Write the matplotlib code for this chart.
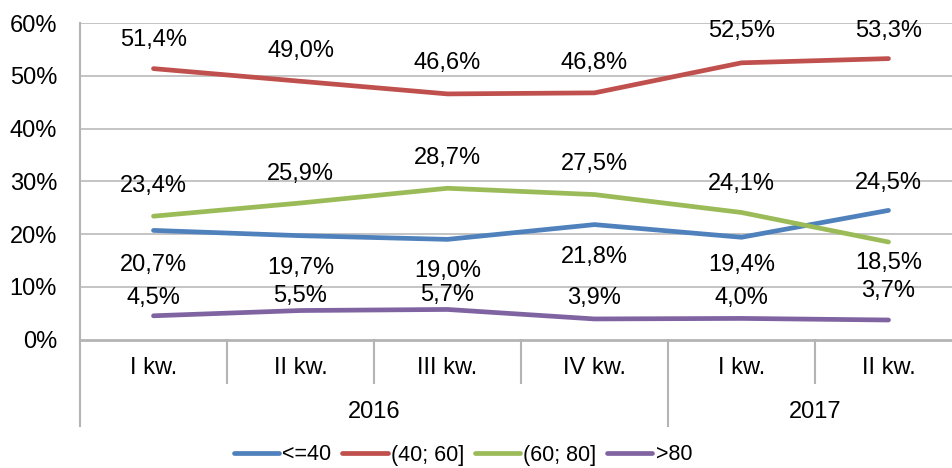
import matplotlib
matplotlib.use("Agg")
import matplotlib.pyplot as plt
from matplotlib.lines import Line2D
from matplotlib.transforms import blended_transform_factory

plt.rcParams["font.family"] = ["Liberation Sans", "DejaVu Sans"]

# Quarterly shares per group
quarters = ["I kw.", "II kw.", "III kw.", "IV kw.", "I kw.", "II kw."]
years = ["2016", "2017"]
year_span = [4, 2]  # number of quarters in each year

series_names = ["<=40", "(40; 60]", "(60; 80]", ">80"]
le_40 = [20.7, 19.7, 19.0, 21.8, 19.4, 24.5]
from_40_to_60 = [51.4, 49.0, 46.6, 46.8, 52.5, 53.3]
from_60_to_80 = [23.4, 25.9, 28.7, 27.5, 24.1, 18.5]
above_80 = [4.5, 5.5, 5.7, 3.9, 4.0, 3.7]

colors = ["#4F81BD", "#C0504D", "#9BBB59", "#8064A2"]

# vertical label offsets in pixels (negative = above the point)
label_offsets = [
    [35, 32, 32, 32, 28, -27],
    [-29, -30, -31, -30, -32, -28],
    [-30, -29, -30, -31, -28, 21],
    [-18, -15, -14, -21, -20, -29],
]

FS = 17
LW = 3.4
W, H = 952, 468
fig = plt.figure(figsize=(W / 100, H / 100), dpi=100)
left, right, top, bottom = 80, 962, 23.3, 339.5
ax = fig.add_axes([left / W, 1 - bottom / H, (right - left) / W, (bottom - top) / H])

grid_color = "#B4B4B4"
x = list(range(len(quarters)))
all_series = [le_40, from_40_to_60, from_60_to_80, above_80]

for vals, col, name, offs in zip(all_series, colors, series_names, label_offsets):
    ax.plot(x, vals, color=col, lw=LW, solid_capstyle="round",
            solid_joinstyle="round", label=name, zorder=3)
    for xi, v, o in zip(x, vals, offs):
        txt = f"{v:.1f}".replace(".", ",") + "%"
        ax.annotate(txt, (xi, v), xytext=(0, -o * 0.72), textcoords="offset points",
                    ha="center", va="center", fontsize=FS, color="black", zorder=4)

ax.set_xlim(-0.5, len(quarters) - 0.5)
ax.set_ylim(0, 60)
yt = [0, 10, 20, 30, 40, 50, 60]
ax.set_yticks(yt)
ax.set_yticklabels([f"{t}%" for t in yt], fontsize=FS)
ax.tick_params(axis="y", length=0, pad=16.5)
ax.set_xticks([])

for t in yt[1:]:
    ax.axhline(t, color=grid_color, lw=1.1, zorder=1)

for s in ["top", "right"]:
    ax.spines[s].set_visible(False)
ax.spines["left"].set_color(grid_color)
ax.spines["left"].set_linewidth(1.5)
ax.spines["bottom"].set_color(grid_color)
ax.spines["bottom"].set_linewidth(2.0)

# two-level category axis drawn below the plot
trans = blended_transform_factory(ax.transData, fig.transFigure)
def fy(py):
    return 1 - py / H

cat_line_bottom = 383
year_line_bottom = 426
boundaries_year = [-0.5]
acc = -0.5
for n in year_span:
    acc += n
    boundaries_year.append(acc)
for b in [i - 0.5 for i in range(len(quarters) + 1)]:
    yb = year_line_bottom if b in boundaries_year else cat_line_bottom
    ax.add_line(Line2D([b, b], [fy(bottom), fy(yb)], transform=trans,
                       color=grid_color, lw=1.5, clip_on=False))

for xi, q in zip(x, quarters):
    ax.text(xi, fy(368), q, transform=trans, ha="center", va="center", fontsize=FS)

start = 0
for yr, n in zip(years, year_span):
    c = start + (n - 1) / 2
    ax.text(c, fy(412), yr, transform=trans, ha="center", va="center", fontsize=FS)
    start += n

handles = [Line2D([0], [0], color=c, lw=LW, solid_capstyle="round") for c in colors]
fig.legend(handles, series_names, loc="center", bbox_to_anchor=(463 / W, 1 - 455 / H),
           ncol=4, frameon=False, fontsize=15.5, handlelength=2.1, handletextpad=0.15,
           columnspacing=0.5, borderaxespad=0, borderpad=0)

fig.savefig("out.png", dpi=100)
